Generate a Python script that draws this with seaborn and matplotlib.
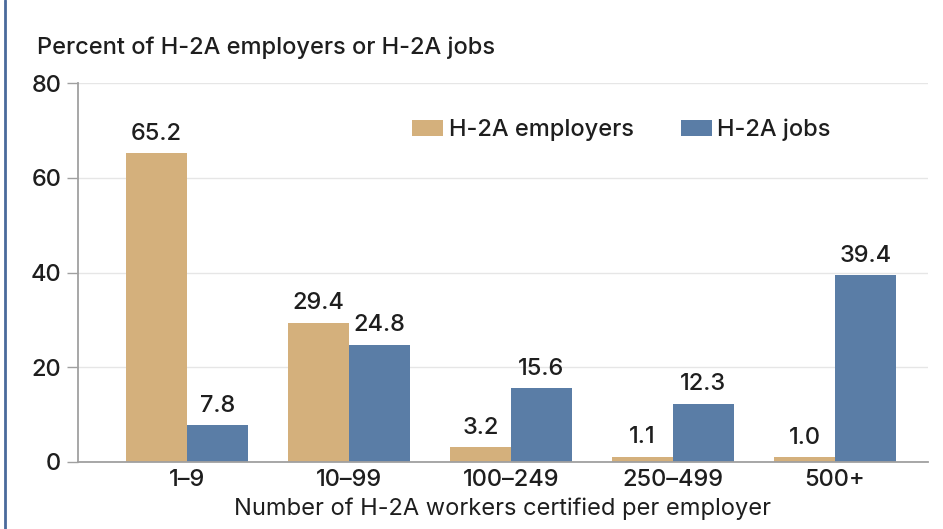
import matplotlib
matplotlib.use("Agg")
import matplotlib.pyplot as plt
from matplotlib.lines import Line2D
import seaborn as sns
import pandas as pd

categories = ["1–9", "10–99", "100–249", "250–499", "500+"]
employers = [65.2, 29.4, 3.2, 1.1, 1.0]
jobs = [7.8, 24.8, 15.6, 12.3, 39.4]
series_names = ["H-2A employers", "H-2A jobs"]
y_ticks = [0, 20, 40, 60, 80]

df = pd.DataFrame({
    "size": categories * 2,
    "value": employers + jobs,
    "series": [series_names[0]] * len(categories) + [series_names[1]] * len(categories),
})

sns.set_theme(style="white")
plt.rcParams["font.family"] = ["Inter", "DejaVu Sans"]
plt.rcParams["font.weight"] = "medium"

TAN = "#D4B07C"
BLUE = "#5A7DA6"
TEXT = "#1E1E1E"
FS = 17

fig = plt.figure(figsize=(9.43, 5.29), dpi=100)
ax = fig.add_axes([78 / 943, 1 - 462 / 529, (928 - 78) / 943, (462 - 83) / 529])

sns.barplot(data=df, x="size", y="value", hue="series",
            palette=[TAN, BLUE], width=0.75, gap=0, saturation=1,
            linewidth=0, ax=ax, legend=True)

for cont in ax.containers:
    ax.bar_label(cont, fmt="%.1f", padding=6, fontsize=FS, color=TEXT)

ax.set_ylim(0, 80)
ax.set_xlim(-0.673, 4.574)
ax.set_yticks(y_ticks)
ax.yaxis.grid(True, color="#E6E6E6", linewidth=1)
ax.set_axisbelow(True)

for side in ("top", "right"):
    ax.spines[side].set_visible(False)
for side in ("left", "bottom"):
    ax.spines[side].set_color("#A0A0A0")
    ax.spines[side].set_linewidth(1.3)

ax.tick_params(axis="y", length=8, width=1, color="#A0A0A0", pad=4,
               labelsize=FS, labelcolor=TEXT, left=True)
ax.tick_params(axis="x", length=0, pad=5, labelsize=FS, labelcolor=TEXT)
ax.set_ylabel("")
ax.set_xlabel("Number of H-2A workers certified per employer",
              fontsize=FS, color=TEXT, labelpad=5)

leg = ax.legend(loc="center left", bbox_to_anchor=(412 / 943, 1 - 130 / 529),
                bbox_transform=fig.transFigure, ncol=2, frameon=False,
                fontsize=FS, handlelength=1.3, handleheight=0.65,
                handletextpad=0.25, columnspacing=2.0, borderpad=0,
                borderaxespad=0)
for t in leg.get_texts():
    t.set_color(TEXT)

fig.text(37 / 943, 1 - 48 / 529, "Percent of H-2A employers or H-2A jobs",
         fontsize=FS, color=TEXT, va="center", ha="left")

fig.add_artist(Line2D([5 / 943, 5 / 943], [0, 1], color="#4A6A9C",
                      linewidth=2, transform=fig.transFigure))

fig.savefig("out.png", dpi=100, facecolor="white")
